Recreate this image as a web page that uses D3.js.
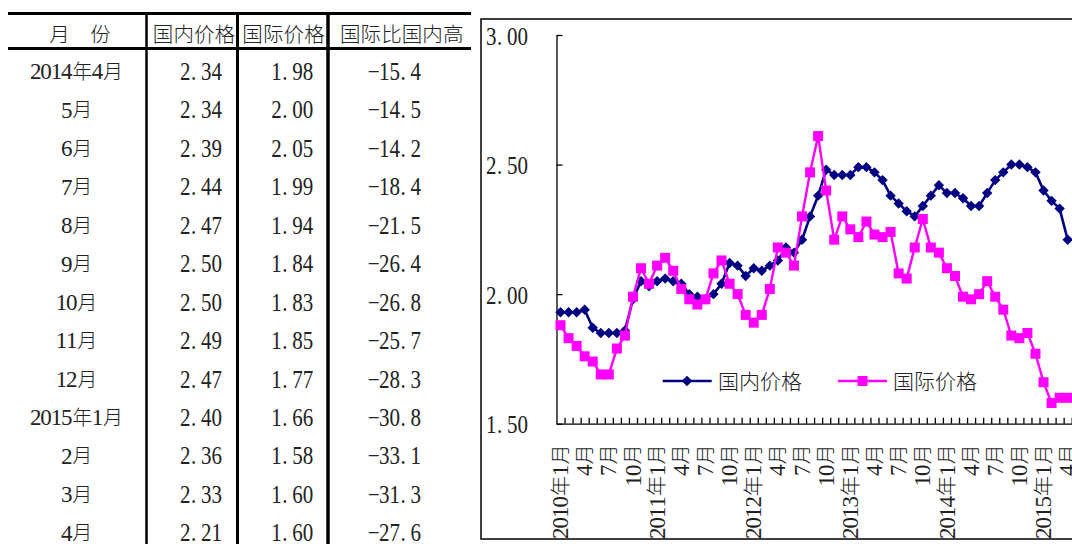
<!DOCTYPE html>
<html>
<head>
<meta charset="utf-8">
<script src="https://cdn.jsdelivr.net/npm/d3@7"></script>
<style>
  html, body { margin: 0; padding: 0; background: #fff; }
  svg { display: block; }
</style>
</head>
<body>
<svg id="chart" width="1072" height="544"></svg>
<script>
// ---------------- DATA ----------------
const categories = [
  "2010年1月","2月","3月","4月","5月","6月","7月","8月","9月","10月","11月","12月",
  "2011年1月","2月","3月","4月","5月","6月","7月","8月","9月","10月","11月","12月",
  "2012年1月","2月","3月","4月","5月","6月","7月","8月","9月","10月","11月","12月",
  "2013年1月","2月","3月","4月","5月","6月","7月","8月","9月","10月","11月","12月",
  "2014年1月","2月","3月","4月","5月","6月","7月","8月","9月","10月","11月","12月",
  "2015年1月","2月","3月","4月"
];
const domesticPrice = [
  1.93,1.93,1.93,1.94,1.87,1.85,1.85,1.85,1.86,1.98,2.05,2.03,
  2.05,2.06,2.05,2.04,2.00,1.99,1.98,2.00,2.04,2.12,2.11,2.07,
  2.10,2.09,2.11,2.13,2.18,2.16,2.21,2.30,2.38,2.48,2.46,2.46,
  2.46,2.49,2.49,2.47,2.44,2.38,2.35,2.32,2.30,2.34,2.38,2.42,
  2.39,2.39,2.37,2.34,2.34,2.39,2.44,2.47,2.50,2.50,2.49,2.47,
  2.40,2.36,2.33,2.21
];
const internationalPrice = [
  1.88,1.83,1.80,1.76,1.74,1.69,1.69,1.79,1.84,1.99,2.10,2.04,
  2.11,2.14,2.09,2.02,1.98,1.96,1.98,2.08,2.13,2.04,2.00,1.92,
  1.89,1.92,2.02,2.18,2.16,2.11,2.30,2.47,2.61,2.40,2.21,2.30,
  2.25,2.22,2.28,2.23,2.22,2.24,2.08,2.06,2.18,2.29,2.18,2.16,
  2.10,2.07,1.99,1.98,2.00,2.05,1.99,1.94,1.84,1.83,1.85,1.77,
  1.66,1.58,1.60,1.60
];
const seriesNames = ["国内价格", "国际价格"];
const yTickValues = [1.5, 2.0, 2.5, 3.0];
const xLabelEvery = 3;

const tableHeaders = ["月　份", "国内价格", "国际价格", "国际比国内高"];
const tableMonths = ["2014年4月","5月","6月","7月","8月","9月","10月","11月","12月","2015年1月","2月","3月","4月"];
const tableDomestic = [2.34,2.34,2.39,2.44,2.47,2.50,2.50,2.49,2.47,2.40,2.36,2.33,2.21];
const tableInternational = [1.98,2.00,2.05,1.99,1.94,1.84,1.83,1.85,1.77,1.66,1.58,1.60,1.60];
const tableDiff = [-15.4,-14.5,-14.2,-18.4,-21.5,-26.4,-26.8,-25.7,-28.3,-30.8,-33.1,-31.3,-27.6];

// ---------------- HELPERS ----------------
const svg = d3.select("#chart");
svg.append("rect").attr("width",1072).attr("height",544).attr("fill","#fff");

function isWide(ch) { return /[\u2E80-\u9FFF\uF900-\uFAFF\uFF00-\uFF60\u3000-\u303F]/.test(ch); }

// Draws text on a fixed cell grid (half-width / full-width), like a Song-style font.
function cellText(parent, str, x, y, opt) {
  const o = Object.assign({anchor: "start", rotate: false, fill: "#222", em: 21, cjk: 20}, opt || {});
  const chars = Array.from(str);
  const mixed = chars.some(isWide);
  const num = mixed ? 23 : 25;
  const s = mixed ? 1 : (o.em / 2) / (num * 0.5);   // horizontal condense for pure numeric strings
  const w = chars.map(c => isWide(c) ? o.em : o.em / 2);
  const total = d3.sum(w);
  let cx = o.anchor === "start" ? 0 : (o.anchor === "middle" ? -total / 2 : -total);
  const g = parent.append("g").attr("transform",
    `translate(${x},${y})${o.rotate ? " rotate(-90)" : ""}${s !== 1 ? ` scale(${s},1)` : ""}`);
  const t = g.append("text").attr("text-anchor", "middle").attr("fill", o.fill);
  chars.forEach((c, i) => {
    const wide = isWide(c);
    let px = cx + w[i] / 2;
    if (c === ".") px = cx + w[i] * 0.3;
    t.append("tspan")
      .attr("x", px / s)
      .attr("y", wide ? o.cjk * 0.36 : num * 0.33)
      .attr("font-family", wide ? "'Noto Sans CJK SC'" : "'Liberation Serif'")
      .attr("font-weight", wide ? 300 : 400)
      .attr("font-size", wide ? o.cjk : num)
      .text(c);
    cx += w[i];
  });
  return g;
}

// ---------------- TABLE ----------------
const tbl = svg.append("g");
const f2 = d3.format(".2f"), f1 = d3.format(".1f");
const headerY = 35, rowY0 = 71.7, rowH = 38.45;

tbl.append("line").attr("x1",8).attr("x2",471).attr("y1",13.5).attr("y2",13.5).attr("stroke","#000").attr("stroke-width",3);
tbl.append("line").attr("x1",8).attr("x2",471).attr("y1",48.5).attr("y2",48.5).attr("stroke","#000").attr("stroke-width",3);
[[146.5,2.5],[237.5,3],[328,3.5]].forEach(([vx,sw]) => {
  tbl.append("line").attr("x1",vx).attr("x2",vx).attr("y1",12).attr("y2",544).attr("stroke","#000").attr("stroke-width",sw);
});

const headerX = [80, 194, 283.5, 401.7];
tableHeaders.forEach((h,i) => cellText(tbl, h, headerX[i], headerY, {anchor:"middle", em:20.6, cjk:20.5}));

tableMonths.forEach((m,i) => {
  const cy = rowY0 + i*rowH;
  cellText(tbl, m, 77, cy, {anchor:"middle", em:20.6, cjk:20});
  cellText(tbl, f2(tableDomestic[i]), 222, cy, {anchor:"end", em:21});
  cellText(tbl, f2(tableInternational[i]), 313.3, cy, {anchor:"end", em:21});
  cellText(tbl, f1(tableDiff[i]), 421, cy, {anchor:"end", em:21});
});

// ---------------- CHART ----------------
const plotL = 556.5, plotR = 556.5 + 64*8.05, plotT = 35, plotB = 423.7;

svg.append("rect").attr("x",481).attr("y",19).attr("width",700).attr("height",520)
  .attr("fill","none").attr("stroke","#000").attr("stroke-width",1.5);

const x = d3.scaleBand().domain(d3.range(categories.length)).range([plotL, plotR]).padding(0);
const xb = d3.scaleLinear().domain([0, categories.length]).range([plotL, plotR]);
const y = d3.scaleLinear().domain([1.5, 3.0]).range([plotB, plotT]);
const cx = i => x(i) + x.bandwidth()/2;

// y axis (ticks pointing into plot)
const yAxis = svg.append("g").attr("transform", `translate(${plotL},0)`)
  .call(d3.axisRight(y).tickValues(yTickValues).tickSize(6).tickSizeOuter(0).tickFormat(""));
yAxis.selectAll("path,line").attr("stroke","#000").attr("stroke-width",1.3);

// x axis (ticks between categories, pointing up)
const xAxis = svg.append("g").attr("transform", `translate(0,${plotB})`)
  .call(d3.axisBottom(xb).tickValues(d3.range(1, categories.length+1)).tickSize(-6).tickSizeOuter(0).tickFormat(""));
xAxis.selectAll("path,line").attr("stroke","#000").attr("stroke-width",1.3);

// y tick labels
yTickValues.forEach(v => cellText(svg, f2(v), 486, y(v) + 1.5, {anchor:"start", em:21}));

// x tick labels (rotated)
categories.forEach((c,i) => {
  if (i % xLabelEvery !== 0) return;
  cellText(svg, c, cx(i), 444, {anchor:"end", rotate:true, em:21, cjk:20});
});

// lines
const colors = ["#000080", "#FF00FF"];
const line = d3.line().x((d,i) => cx(i)).y(d => y(d));
const diamond = r => `M0,${-r}L${r},0L0,${r}L${-r},0Z`;

svg.append("path").datum(domesticPrice).attr("d", line).attr("fill","none")
  .attr("stroke", colors[0]).attr("stroke-width",2.6).attr("stroke-linejoin","round");
svg.append("g").selectAll("path").data(domesticPrice).join("path")
  .attr("d", diamond(5.2)).attr("transform",(d,i)=>`translate(${cx(i)},${y(d)})`).attr("fill",colors[0]);

svg.append("path").datum(internationalPrice).attr("d", line).attr("fill","none")
  .attr("stroke", colors[1]).attr("stroke-width",2.4).attr("stroke-linejoin","round");
svg.append("g").selectAll("path").data(internationalPrice).join("path")
  .attr("d", d3.symbol(d3.symbolSquare, 100)).attr("transform",(d,i)=>`translate(${cx(i)},${y(d)})`).attr("fill",colors[1]);

// legend
const legY = 381;
const leg = svg.append("g");
leg.append("line").attr("x1",662.7).attr("x2",711.7).attr("y1",legY).attr("y2",legY).attr("stroke",colors[0]).attr("stroke-width",2.6);
leg.append("path").attr("d", diamond(5.2)).attr("transform",`translate(687,${legY})`).attr("fill",colors[0]);
cellText(leg, seriesNames[0], 718, legY, {anchor:"start", em:21, cjk:21});
leg.append("line").attr("x1",838).attr("x2",887).attr("y1",legY).attr("y2",legY).attr("stroke",colors[1]).attr("stroke-width",2.4);
leg.append("path").attr("d", d3.symbol(d3.symbolSquare, 100)).attr("transform",`translate(862.5,${legY})`).attr("fill",colors[1]);
cellText(leg, seriesNames[1], 893, legY, {anchor:"start", em:21, cjk:21});
</script>
</body>
</html>
